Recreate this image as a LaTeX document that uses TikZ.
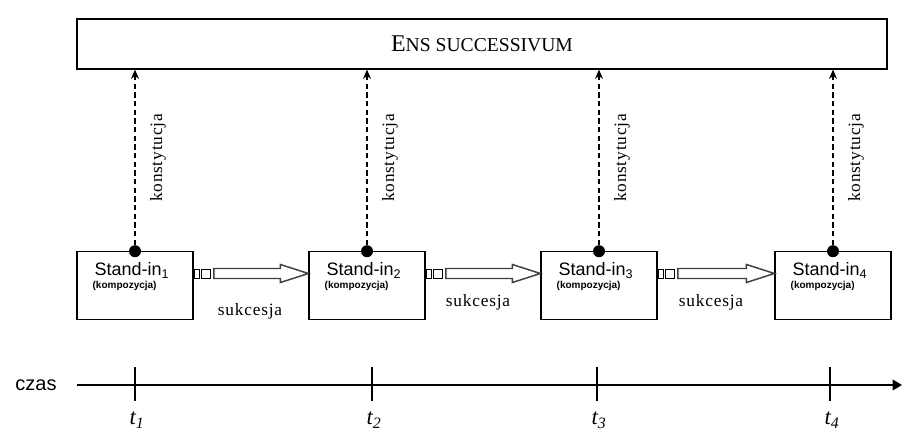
\documentclass[tikz,border=0pt]{standalone}
\usepackage{fontspec}
\setmainfont{Liberation Serif}
\newfontfamily\arialf{Liberation Sans}
\newfontfamily\spacedf[LetterSpace=4.5]{Liberation Serif}
\usepackage{tikz}
\usetikzlibrary{arrows.meta,positioning,calc}
\tikzset{
  ensbox/.style={draw,line width=0.9pt,minimum width=607.5pt,minimum height=37.5pt,inner sep=0pt},
  sib/.style={draw,line width=0.9pt,minimum width=87pt,minimum height=50.5pt,inner sep=0pt},
  knot/.style={circle,fill=black,inner sep=0pt,minimum size=9pt},
  sq/.style={draw,line width=0.7pt,fill=white,minimum height=6.75pt,inner sep=0pt},
  sin/.style={font=\arialf\fontsize{13.5}{15}\selectfont,inner sep=0pt},
  kmp/.style={font=\arialf\bfseries\fontsize{7.5}{9}\selectfont,inner sep=0pt},
  kon/.style={font=\spacedf\fontsize{13}{15}\selectfont,rotate=90,inner sep=0pt},
  suk/.style={font=\spacedf\fontsize{13}{15}\selectfont,inner sep=0pt},
  darr/.style={-{Stealth[length=7pt,width=6pt]},dash pattern=on 4pt off 2.5pt,line width=0.8pt},
  succ/.style={draw=black!75,line width=1.1pt,fill=white,line join=miter},
  axis/.style={-{Triangle[length=7pt,width=8pt]},line width=1.1pt},
  tick/.style={line width=1.1pt},
  tl/.style={font=\fontsize{17}{19}\selectfont\itshape,inner sep=0pt},
}
\begin{document}
\begin{tikzpicture}[x=0.75pt,y=-0.75pt]
\useasboundingbox (0,0) rectangle (902,434);
\node[ensbox] (ens) at (482,44) {{\fontsize{18}{20}\selectfont E}{\fontsize{14.7}{16}\selectfont NS SUCCESSIVUM}};
% stand-ins and their constitution
\foreach \i/\x in {1/135,2/367,3/599,4/833} {
  \node[sib] (b\i) at (\x,285.5) {};
  \node[sin,anchor=base west] (s\i) at ($(b\i.north west)+(18,24)$) {Stand-in\textsubscript{\i}};
  \node[kmp,anchor=west] (c\i) at ($(b\i.north west)+(16,35)$) {(kompozycja)};
  \node[knot] (p\i) at (b\i.north) {};
  \draw[darr] (p\i) -- (p\i |- ens.south);
  \node[kon] (k\i) at (\x+23,158) {konstytucja};
}
% succession arrows
\foreach \i/\j/\sx/\sy in {1/2/250/311,2/3/478/302,3/4/711/302} {
  \node[sq,minimum width=3.75pt,anchor=west] (qa\i) at ($(b\i.east)+(0,-12)$) {};
  \node[sq,minimum width=6.75pt,anchor=west] (qb\i) at ($(qa\i.east)+(1.5,0)$) {};
  \draw[succ] ($(qb\i.east)+(3,-5)$) -- ($(b\j.west |- qb\i.east)+(-28,-5)$) -- ++(0,-4)
    -- (b\j.west |- qb\i.east) -- ++(-28,9) -- ++(0,-4) -- ($(qb\i.east)+(3,5)$) -- cycle;
  \node[suk] (u\i) at (\sx,\sy) {sukcesja};
}
% time axis
\node[font=\arialf\fontsize{15}{17}\selectfont,inner sep=0pt] (czas) at (36,385) {czas};
\coordinate (ax0) at (77,385);
\coordinate (ax1) at (902,385);
\draw[axis] (ax0) -- (ax1);
\foreach \i/\x in {1/135,2/372,3/597,4/830} {
  \coordinate (m\i) at (\x,367);
  \draw[tick] (m\i) -- ++(0,34);
  \node[tl] (t\i) at (\x+2,420) {t\textsubscript{\i}};
}
\end{tikzpicture}
\end{document}
